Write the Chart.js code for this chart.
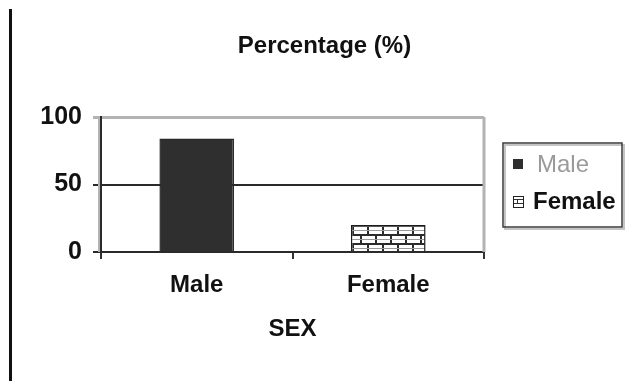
<!DOCTYPE html>
<html>
<head>
<meta charset="utf-8">
<script src="https://cdn.jsdelivr.net/npm/chart.js@4.4.1/dist/chart.umd.min.js"></script>
<style>
  html, body { margin: 0; padding: 0; background: #fff; }
  #wrap { position: relative; width: 625px; height: 381px; overflow: hidden; }
  #rule { position: absolute; left: 9px; top: 9px; width: 3px; height: 372px; background: #111; }
  #c { position: absolute; left: 0; top: 0; }
</style>
</head>
<body>
<div id="wrap">
  <div id="rule"></div>
  <canvas id="c" width="625" height="381"></canvas>
</div>
<script>
// Chart content
const categories = ['Male', 'Female'];
const percentages = [84, 20];
const yTickValues = [0, 50, 100];
const chartTitle = 'Percentage (%)';
const axisTitle = 'SEX';

const FAMILY = "'Liberation Sans', Arial, sans-serif";

// Brick fill for the second bar
function brickPattern(ctx) {
  const tile = document.createElement('canvas');
  tile.width = 30; tile.height = 18;
  const t = tile.getContext('2d');
  t.fillStyle = '#ffffff';
  t.fillRect(0, 0, 30, 18);
  t.fillStyle = '#2b2b2b';
  t.fillRect(0, 0, 30, 2);
  t.fillRect(0, 9, 30, 2);
  t.fillRect(0, 0, 2, 9);
  t.fillRect(15, 0, 2, 9);
  t.fillRect(7, 9, 2, 9);
  t.fillRect(22, 9, 2, 9);
  t.fillStyle = '#9a9a9a';
  t.fillRect(0, 5, 30, 1);
  t.fillRect(0, 14, 30, 1);
  return ctx.createPattern(tile, 'repeat');
}

const canvas = document.getElementById('c');
const bricks = brickPattern(canvas.getContext('2d'));
const barFills = ['#2f2f2f', bricks];

// Chart heading above the plot
const heading = {
  id: 'heading',
  afterDraw(chart) {
    const { ctx, chartArea: a } = chart;
    ctx.save();
    ctx.fillStyle = '#111';
    ctx.font = 'bold 24px ' + FAMILY;
    ctx.textAlign = 'center';
    ctx.textBaseline = 'alphabetic';
    ctx.fillText(chartTitle, (a.left + a.right) / 2 + 32, a.top - 64);
    ctx.restore();
  }
};

// Gray frame on the right of the plot and a soft edge beside the value axis
const plotFrame = {
  id: 'plotFrame',
  beforeDatasetsDraw(chart) {
    const { ctx, chartArea: a } = chart;
    ctx.save();
    ctx.strokeStyle = '#b3b3b3';
    ctx.lineWidth = 3;
    ctx.beginPath();
    ctx.moveTo(a.right, a.top);
    ctx.lineTo(a.right, a.bottom);
    ctx.stroke();
    ctx.lineWidth = 2;
    ctx.beginPath();
    ctx.moveTo(a.left - 2, a.top);
    ctx.lineTo(a.left - 2, a.bottom);
    ctx.stroke();
    ctx.restore();
  }
};

// Boxed legend to the right of the plot
const boxedLegend = {
  id: 'boxedLegend',
  afterDraw(chart) {
    const { ctx, chartArea: a } = chart;
    const w = 119, h = 84;
    const x = a.right + 19;
    const y = Math.round((a.top + a.bottom) / 2 - h / 2);
    ctx.save();
    ctx.fillStyle = '#ffffff';
    ctx.fillRect(x, y, w, h);
    ctx.strokeStyle = '#c4c4c4';
    ctx.lineWidth = 2;
    ctx.strokeRect(x + 2, y + 2, w, h);
    ctx.strokeStyle = '#3a3a3a';
    ctx.lineWidth = 1.5;
    ctx.strokeRect(x, y, w, h);

    const rows = [
      { text: categories[0], color: '#9a9a9a', weight: 'normal', cy: y + 21, tx: x + 34 },
      { text: categories[1], color: '#111111', weight: 'bold', cy: y + 58, tx: x + 30 }
    ];
    rows.forEach((r, i) => {
      const mx = x + 10, my = r.cy - 5;
      if (i === 0) {
        ctx.fillStyle = barFills[0];
        ctx.fillRect(mx, my, 10, 10);
      } else {
        ctx.fillStyle = '#ffffff';
        ctx.fillRect(mx, my, 10, 11);
        ctx.fillStyle = '#333';
        ctx.fillRect(mx, my + 3, 10, 1);
        ctx.fillRect(mx, my + 7, 10, 1);
        ctx.fillRect(mx + 4, my + 3, 1, 4);
        ctx.strokeStyle = '#222';
        ctx.lineWidth = 1;
        ctx.strokeRect(mx + 0.5, my + 0.5, 10, 11);
      }
      ctx.fillStyle = r.color;
      ctx.font = r.weight + ' 24px ' + FAMILY;
      ctx.textBaseline = 'middle';
      ctx.textAlign = 'left';
      ctx.fillText(r.text, r.tx, r.cy + 1);
    });
    ctx.restore();
  }
};

new Chart(canvas, {
  type: 'bar',
  data: {
    labels: categories,
    datasets: [{
      label: chartTitle,
      data: percentages,
      backgroundColor: barFills,
      borderColor: ['#2a2a2a', '#1a1a1a'],
      borderWidth: 1.5,
      categoryPercentage: 1,
      barPercentage: 0.39
    }]
  },
  options: {
    responsive: false,
    animation: false,
    devicePixelRatio: 1,
    layout: { padding: { left: 0, right: 141, top: 117, bottom: 0 } },
    plugins: {
      legend: { display: false },
      tooltip: { enabled: false },
      title: { display: false }
    },
    scales: {
      x: {
        grid: { drawOnChartArea: false, offset: true, tickLength: 7, color: '#333', lineWidth: 2 },
        border: { display: true, color: '#2a2a2a', width: 2 },
        ticks: { color: '#111', font: { family: FAMILY, size: 24, weight: 'bold' }, padding: 12 },
        title: {
          display: true,
          text: axisTitle,
          color: '#111',
          font: { family: FAMILY, size: 24, weight: 'bold' },
          padding: { top: 0, bottom: 37 }
        },
        afterFit(s) { s.height = 129; }
      },
      y: {
        min: 0,
        max: 100,
        afterBuildTicks(s) { s.ticks = yTickValues.map(v => ({ value: v })); },
        grid: {
          color: c => (c.tick && c.tick.value === 100) ? '#b3b3b3' : '#2a2a2a',
          lineWidth: c => (c.tick && c.tick.value === 100) ? 3 : 2,
          tickLength: 8
        },
        border: { display: true, color: '#2a2a2a', width: 2 },
        ticks: { color: '#111', font: { family: FAMILY, size: 25, weight: 'bold' }, padding: 11 },
        afterFit(s) { s.width = 101; }
      }
    }
  },
  plugins: [plotFrame, boxedLegend, heading]
});
</script>
</body>
</html>
